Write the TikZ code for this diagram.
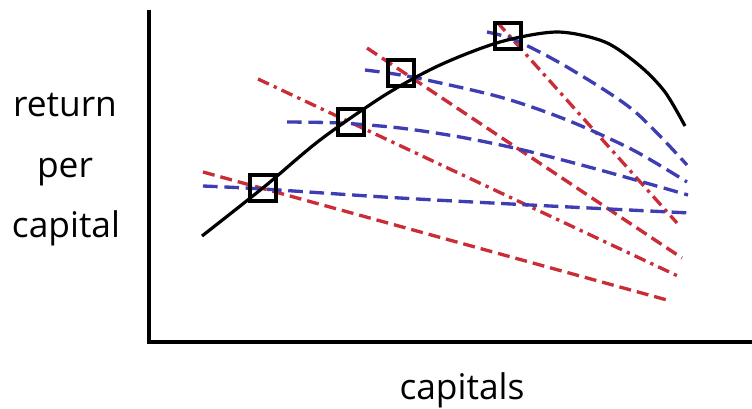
\documentclass[tikz,border=0pt]{standalone}
\usepackage{fontspec}
\setmainfont{Open Sans}
\definecolor{lred}{RGB}{202,45,55}
\definecolor{lblue}{RGB}{62,62,178}
\tikzset{
  axis/.style={line width=2.5pt, black},
  curveline/.style={line width=2.4pt, black},
  redline/.style={line width=2.5pt, lred, dash pattern=on 9pt off 4.5pt},
  reddot/.style={line width=2.5pt, lred, dash pattern=on 9pt off 4pt on 2.5pt off 4pt},
  blueline/.style={line width=2.5pt, lblue, dash pattern=on 11pt off 5pt},
  marker/.style={draw=black, line width=2.8pt, minimum size=19.5pt, inner sep=0pt},
  lbl/.style={anchor=base, inner sep=0pt, font=\fontsize{26.5}{30}\selectfont}
}
\begin{document}
\begin{tikzpicture}[x=0.75pt,y=-0.75pt]
\useasboundingbox (0,0) rectangle (752,408);
% axes
\coordinate (top) at (149,10);
\coordinate (origin) at (149,342);
\coordinate (right) at (752,342);
\draw[axis] (top) -- (origin) -- (right);
% red lines
\draw[redline] (203,172) -- (667,300);
\draw[reddot] (258,79) -- (680,277);
\draw[redline] (367,48) -- (682,258);
\draw[reddot] (497,22) -- (677,223);
% blue lines
\draw[blueline] plot[smooth] coordinates {(203,186) (263,189) (400,198) (550,206) (690,213)};
\draw[blueline] plot[smooth] coordinates {(287,122) (340,123) (400,128) (460,137) (523,150) (600,170) (688,195)};
\draw[blueline] plot[smooth] coordinates {(365,70) (412,77) (500,97) (567,120) (633,150) (687,182)};
\draw[blueline] plot[smooth] coordinates {(487,32) (515,40) (567,67) (633,110) (687,165)};
% black curve
\draw[curveline] plot[smooth] coordinates {(202,236) (264,187) (320,140) (385,95) (440,65) (500,42) (557,32) (605,42) (640,66) (665,92) (685,126)};
% markers
\node[marker] (sq1) at (263,188) {};
\node[marker] (sq2) at (351,122) {};
\node[marker] (sq3) at (401,73) {};
\node[marker] (sq4) at (508,36) {};
% labels
\node[lbl] (l1) at (65,116) {return};
\node[lbl] (l2) at (65,177) {per};
\node[lbl] (l3) at (66,237) {capital};
\node[lbl] (xl) at (462,399) {capitals};
\end{tikzpicture}
\end{document}
